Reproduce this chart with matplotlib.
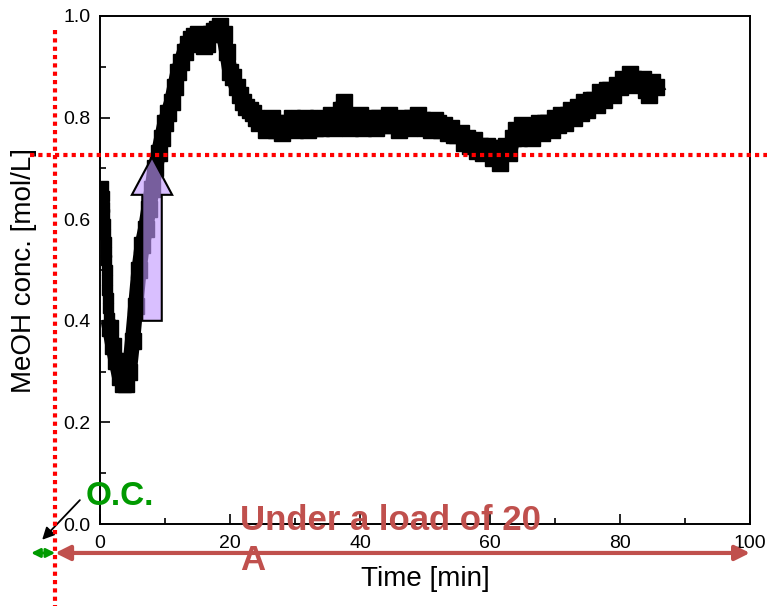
import numpy as np
import matplotlib
matplotlib.use("Agg")
import matplotlib.pyplot as plt
from matplotlib.patches import Polygon

plt.rcParams['font.family'] = ['Liberation Sans', 'DejaVu Sans']

# first fast drop right after the start (sampled densely)
t_start = [0.5, 0.55, 0.6, 0.65, 0.7, 0.8, 0.85, 0.9, 0.95, 1.0, 1.1, 1.15, 1.2, 1.3, 1.4, 1.5]
c_start = [0.665, 0.645, 0.625, 0.61, 0.59, 0.57, 0.555, 0.535, 0.52, 0.50,
           0.48, 0.46, 0.445, 0.425, 0.405, 0.385]

# rest of the run, every 0.5 min from 2.0 min
c_main = [
    0.35, 0.32, 0.29, 0.275, 0.275, 0.30, 0.36, 0.43, 0.50, 0.55,
    0.58, 0.62, 0.66, 0.70, 0.73, 0.76, 0.79, 0.81, 0.83, 0.86,
    0.89, 0.91, 0.93, 0.945, 0.955, 0.96, 0.965, 0.955, 0.94, 0.945,
    0.965, 0.97, 0.975, 0.98, 0.965, 0.93, 0.89, 0.88, 0.86, 0.845,
    0.83, 0.82, 0.815, 0.81, 0.80, 0.79, 0.795, 0.775, 0.785, 0.80,
    0.775, 0.79, 0.77, 0.79, 0.78, 0.80, 0.775, 0.79, 0.785, 0.80,
    0.775, 0.79, 0.78, 0.80, 0.78, 0.795, 0.785, 0.805, 0.78, 0.80,
    0.815, 0.83, 0.80, 0.78, 0.795, 0.785, 0.805, 0.78, 0.795, 0.785,
    0.80, 0.78, 0.80, 0.795, 0.785, 0.805, 0.785, 0.795, 0.775, 0.79,
    0.80, 0.78, 0.80, 0.785, 0.805, 0.795, 0.78, 0.79, 0.775, 0.795,
    0.79, 0.775, 0.785, 0.77, 0.78, 0.765, 0.765, 0.77, 0.75, 0.76,
    0.745, 0.755, 0.735, 0.745, 0.73, 0.745, 0.74, 0.72, 0.735, 0.71,
    0.74, 0.745, 0.73, 0.76, 0.775, 0.76, 0.785, 0.77, 0.78, 0.76,
    0.78, 0.79, 0.77, 0.79, 0.79, 0.775, 0.80, 0.785, 0.805, 0.79,
    0.805, 0.815, 0.80, 0.82, 0.81, 0.83, 0.815, 0.835, 0.835, 0.825,
    0.85, 0.835, 0.855, 0.855, 0.845, 0.865, 0.86, 0.875, 0.87, 0.885,
    0.875, 0.865, 0.87, 0.875, 0.855, 0.845, 0.87, 0.86,
]
t_main = 2.0 + 0.5 * np.arange(len(c_main))

threshold = 0.726     # red dotted level
t_oc_end = -6.9       # end of open circuit period (left of the axis)

red = '#c0504d'
green = '#009a00'

fig = plt.figure(figsize=(7.67, 6.06), dpi=100)
ax = fig.add_axes([0.1304, 0.1353, 0.8474, 0.8383])

ax.plot(t_start, c_start, 's', color='black', ms=7, zorder=2)
ax.plot(np.r_[t_start[-1], t_main], np.r_[c_start[-1], c_main], 's-',
        color='black', ms=11, lw=11, zorder=2)

# purple up arrow
arrow_pts = [(6.5, 0.40), (9.5, 0.40), (9.5, 0.648), (11.1, 0.648),
             (8.0, 0.722), (4.9, 0.648), (6.5, 0.648)]
ax.add_patch(Polygon(arrow_pts, closed=True, facecolor=(0.76, 0.6, 1.0, 0.62),
                     edgecolor='black', lw=1.5, zorder=3))

ax.set_xlim(0, 100)
ax.set_ylim(0, 1.0)
ax.set_xticks(np.arange(0, 101, 20))
ax.set_xticks(np.arange(10, 100, 20), minor=True)
ax.set_yticks(np.arange(0, 1.01, 0.2))
ax.set_yticks(np.arange(0.1, 1.0, 0.2), minor=True)
ax.yaxis.set_major_formatter(matplotlib.ticker.FormatStrFormatter('%.1f'))
ax.tick_params(which='both', direction='in', width=1.2, labelsize=14)
ax.tick_params(which='major', length=7)
ax.tick_params(which='minor', length=4)
ax.tick_params(axis='x', pad=8)
ax.tick_params(axis='y', pad=7)
for s in ax.spines.values():
    s.set_linewidth(1.4)

ax.set_xlabel('Time [min]', fontsize=20)
ax.set_ylabel('MeOH conc. [mol/L]', fontsize=20)
ax.xaxis.set_label_coords(0.5, -0.083)
ax.yaxis.set_label_coords(-0.097, 0.5)

# red dotted guide lines, running outside the frame
ax.plot([-10.8, 103], [threshold, threshold], color='red', lw=3,
        ls=(0, (1, 1)), clip_on=False, zorder=4)
ax.plot([t_oc_end, t_oc_end], [0.972, -0.165], color='red', lw=3,
        ls=(0, (1, 1)), clip_on=False, zorder=4)

# load / open circuit arrows below the axis
y_arr = -0.057
ax.annotate('', xy=(100, y_arr), xytext=(t_oc_end, y_arr),
            arrowprops=dict(arrowstyle='<|-|>', color=red, lw=3,
                            mutation_scale=22, shrinkA=0, shrinkB=0),
            annotation_clip=False)
ax.annotate('', xy=(t_oc_end, y_arr), xytext=(-10.6, y_arr),
            arrowprops=dict(arrowstyle='<|-|>', color=green, lw=2,
                            mutation_scale=13, shrinkA=0, shrinkB=0),
            annotation_clip=False)
ax.annotate('', xy=(-8.9, -0.031), xytext=(-3.1, 0.047),
            arrowprops=dict(arrowstyle='-|>', color='black', lw=1.3,
                            mutation_scale=18, shrinkA=0, shrinkB=0),
            annotation_clip=False)

ax.text(-2.2, 0.037, 'O.C.', color=green, fontsize=24, fontweight='bold',
        ha='left', va='baseline', clip_on=False)
ax.text(21.5, 0.04, 'Under a load of 20\nA', color=red, fontsize=25,
        fontweight='bold', ha='left', va='top', linespacing=1.3,
        clip_on=False)

fig.savefig('out.png', dpi=100)
